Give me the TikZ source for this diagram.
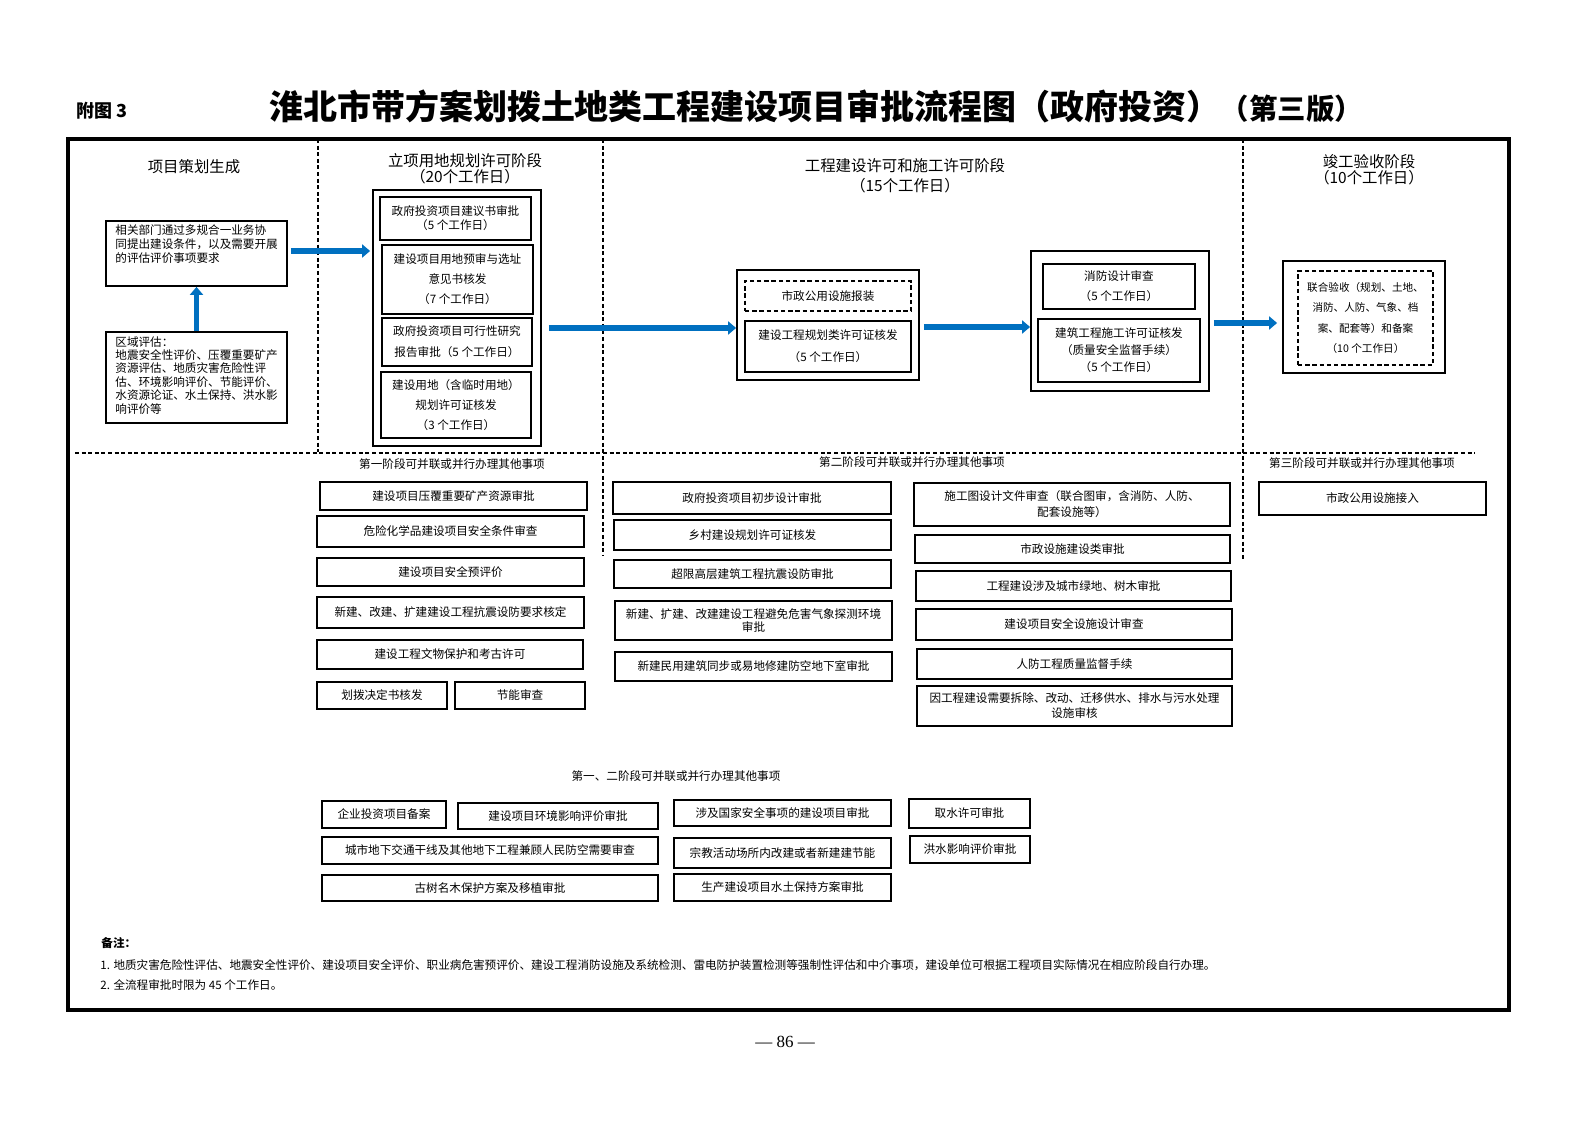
\documentclass[tikz,border=0pt]{standalone}
\usepackage{fontspec}
\setmainfont{Noto Sans CJK SC}
\newfontfamily\serifnum{Liberation Serif}
\usetikzlibrary{arrows.meta}
\definecolor{arrowblue}{RGB}{0,112,192}
\newcommand\fsz[2]{\fontsize{#1}{#2}\selectfont}
\newcommand\mybox[7][]{%
  \node[box,#1,minimum width={(#5-#3)*0.5pt},minimum height={(#6-#4)*0.5pt}] (#2) at ({(#3+#5)/2},{(#4+#6)/2}) {#7};}
\tikzset{
  box/.style={draw, line width=0.9pt, inner sep=0pt, align=center, font=\fsz{5.8}{7}},
  cont/.style={box, line width=1pt},
  dbox/.style={box, line width=0.7pt, dash pattern=on 2.2pt off 1.4pt},
  dline/.style={line width=0.6pt, dash pattern=on 2pt off 1.3pt},
  txt/.style={inner sep=0pt, font=\fsz{5.8}{7}},
  head/.style={inner sep=0pt, align=center, font=\fsz{7.7}{8}},
  bluearrow/.style={draw=arrowblue, line width=2.6pt, -{Triangle[length=4pt,width=6.5pt]}}
}
\begin{document}
\begin{tikzpicture}[x=0.5pt,y=-0.5pt]
\fill[white] (0,0) rectangle (1587,1122);

% header
\node[inner sep=0pt, anchor=west, font=\fsz{9}{10}\bfseries] (fig) at (76,111) {附图 3};
\node[inner sep=0pt, font=\fsz{17}{20}\bfseries] (title) at (816,106)
  {淮北市带方案划拨土地类工程建设项目审批流程图（政府投资）{\fsz{14.2}{16}（第三版）}};

% frame
\draw[line width=1.6pt] (68,139) rectangle (1509,1010);
\draw[dline] (318,139) -- (318,452);
\draw[dline] (603,139) -- (603,556);
\draw[dline] (1243,139) -- (1243,560);
\draw[dline] (75,453) -- (1475,453);

% column headings
\node[head] (h1) at (194,167) {项目策划生成};
\node[head] (h2) at (465,169) {立项用地规划许可阶段\\（20个工作日）};
\node[head, font=\fsz{7.7}{10}] (h3) at (905,176) {工程建设许可和施工许可阶段\\（15个工作日）};
\node[head] (h4) at (1369,170) {竣工验收阶段\\（10个工作日）};

% column 1
\mybox{A}{106}{221}{287}{286}{}
\node[txt, anchor=north west, align=left, font=\fsz{5.8}{7}] (Atxt) at (115,224)
  {相关部门通过多规合一业务协\\同提出建设条件，以及需要开展\\的评估评价事项要求};
\mybox{B}{106}{332}{287}{423}{}
\node[txt, anchor=north west, align=left, font=\fsz{5.8}{6.7}] (Btxt) at (115,336)
  {区域评估：\\地震安全性评价、压覆重要矿产\\资源评估、地质灾害危险性评\\估、环境影响评价、节能评价、\\水资源论证、水土保持、洪水影\\响评价等};

% column 2
\mybox{C2}{373}{190}{541}{446}{}
\mybox{b1}{380}{197}{531}{240}{政府投资项目建议书审批\\（5 个工作日）}
\mybox[font=\fsz{5.8}{10}]{b2}{382}{245}{533}{314}{建设项目用地预审与选址\\意见书核发\\（7 个工作日）}
\mybox[font=\fsz{5.8}{10.5}]{b3}{382}{318}{532}{366}{政府投资项目可行性研究\\报告审批（5 个工作日）}
\mybox[font=\fsz{5.8}{10}]{b4}{381}{372}{531}{438}{建设用地（含临时用地）\\规划许可证核发\\（3 个工作日）}

% column 3
\mybox{C3}{737}{270}{919}{380}{}
\mybox[dbox]{c1}{745}{281}{911}{311}{市政公用设施报装}
\mybox[font=\fsz{5.8}{11}]{c2}{745}{321}{911}{372}{建设工程规划类许可证核发\\（5 个工作日）}

% column 4
\mybox{C4}{1031}{251}{1209}{391}{}
\mybox[font=\fsz{5.8}{10}]{d1}{1043}{264}{1195}{309}{消防设计审查\\（5 个工作日）}
\mybox[font=\fsz{5.8}{8.5}]{d2}{1038}{319}{1200}{382}{建筑工程施工许可证核发\\（质量安全监督手续）\\（5 个工作日）}

% column 5
\mybox{C5}{1283}{261}{1445}{373}{}
\mybox[dbox,font=\fsz{5.3}{10.2}]{e1}{1298}{271}{1433}{365}{联合验收（规划、土地、\\消防、人防、气象、档\\案、配套等）和备案\\（10 个工作日）}

% arrows
\coordinate (y251) at (0,251);
\coordinate (y328) at (0,328);
\coordinate (y327) at (0,327);
\coordinate (y323) at (0,323);
\draw[bluearrow] (B.north) -- (A.south);
\draw[bluearrow, shorten <=1.5pt, shorten >=1pt] (A.east |- y251) -- (C2.west |- y251);
\draw[bluearrow, shorten <=3.5pt] (C2.east |- y328) -- (C3.west |- y328);
\draw[bluearrow, shorten <=2pt] (C3.east |- y327) -- (C4.west |- y327);
\draw[bluearrow, shorten <=2pt, shorten >=2.5pt] (C4.east |- y323) -- (C5.west |- y323);

% stage labels
\node[txt] (s1) at (452,464) {第一阶段可并联或并行办理其他事项};
\node[txt] (s2) at (912,462) {第二阶段可并联或并行办理其他事项};
\node[txt] (s3) at (1362,463) {第三阶段可并联或并行办理其他事项};

% stage 1
\mybox{p1}{320}{482}{587}{510}{建设项目压覆重要矿产资源审批}
\mybox{p2}{317}{516}{584}{547}{危险化学品建设项目安全条件审查}
\mybox{p3}{317}{558}{584}{586}{建设项目安全预评价}
\mybox{p4}{317}{597}{584}{628}{新建、改建、扩建建设工程抗震设防要求核定}
\mybox{p5}{317}{640}{583}{669}{建设工程文物保护和考古许可}
\mybox{p6}{317}{682}{447}{709}{划拨决定书核发}
\mybox{p7}{455}{682}{585}{709}{节能审查}

% stage 2 left
\mybox{q1}{613}{482}{891}{514}{政府投资项目初步设计审批}
\mybox{q2}{614}{520}{891}{550}{乡村建设规划许可证核发}
\mybox{q3}{614}{560}{891}{588}{超限高层建筑工程抗震设防审批}
\mybox[font=\fsz{5.8}{6.5}]{q4}{615}{601}{892}{640}{新建、扩建、改建建设工程避免危害气象探测环境\\审批}
\mybox{q5}{615}{652}{892}{681}{新建民用建筑同步或易地修建防空地下室审批}

% stage 2 right
\mybox[font=\fsz{5.8}{8}]{r1}{914}{483}{1230}{526}{施工图设计文件审查（联合图审，含消防、人防、\\配套设施等）}
\mybox{r2}{915}{535}{1230}{563}{市政设施建设类审批}
\mybox{r3}{916}{571}{1231}{601}{工程建设涉及城市绿地、树木审批}
\mybox{r4}{916}{609}{1232}{640}{建设项目安全设施设计审查}
\mybox{r5}{917}{649}{1232}{679}{人防工程质量监督手续}
\mybox[font=\fsz{5.8}{7.5}]{r6}{917}{686}{1232}{726}{因工程建设需要拆除、改动、迁移供水、排水与污水处理\\设施审核}

% stage 3
\mybox{t1}{1259}{482}{1486}{515}{市政公用设施接入}

% common
\node[txt] (s12) at (676,776) {第一、二阶段可并联或并行办理其他事项};
\mybox{u1}{322}{801}{446}{828}{企业投资项目备案}
\mybox{u2}{458}{803}{658}{829}{建设项目环境影响评价审批}
\mybox{u3}{674}{800}{891}{826}{涉及国家安全事项的建设项目审批}
\mybox{u4}{909}{799}{1030}{828}{取水许可审批}
\mybox{u5}{322}{837}{658}{864}{城市地下交通干线及其他地下工程兼顾人民防空需要审查}
\mybox{u6}{674}{838}{891}{868}{宗教活动场所内改建或者新建建节能}
\mybox{u7}{910}{836}{1030}{863}{洪水影响评价审批}
\mybox{u8}{322}{875}{658}{901}{古树名木保护方案及移植审批}
\mybox{u9}{674}{874}{891}{901}{生产建设项目水土保持方案审批}

% notes
\node[txt, anchor=west, font=\fsz{5.8}{7}\bfseries] (n0) at (101,943) {备注：};
\node[txt, anchor=west] (n1) at (100,965) {1. 地质灾害危险性评估、地震安全性评价、建设项目安全评价、职业病危害预评价、建设工程消防设施及系统检测、雷电防护装置检测等强制性评估和中介事项，建设单位可根据工程项目实际情况在相应阶段自行办理。};
\node[txt, anchor=west] (n2) at (100,985) {2. 全流程审批时限为 45 个工作日。};

% page number
\node[inner sep=0pt, font=\serifnum\fsz{8.5}{10}] (pg) at (785,1042) {— 86 —};

\pgfresetboundingbox
\useasboundingbox (0,0) rectangle (1587,1122);
\end{tikzpicture}
\end{document}
